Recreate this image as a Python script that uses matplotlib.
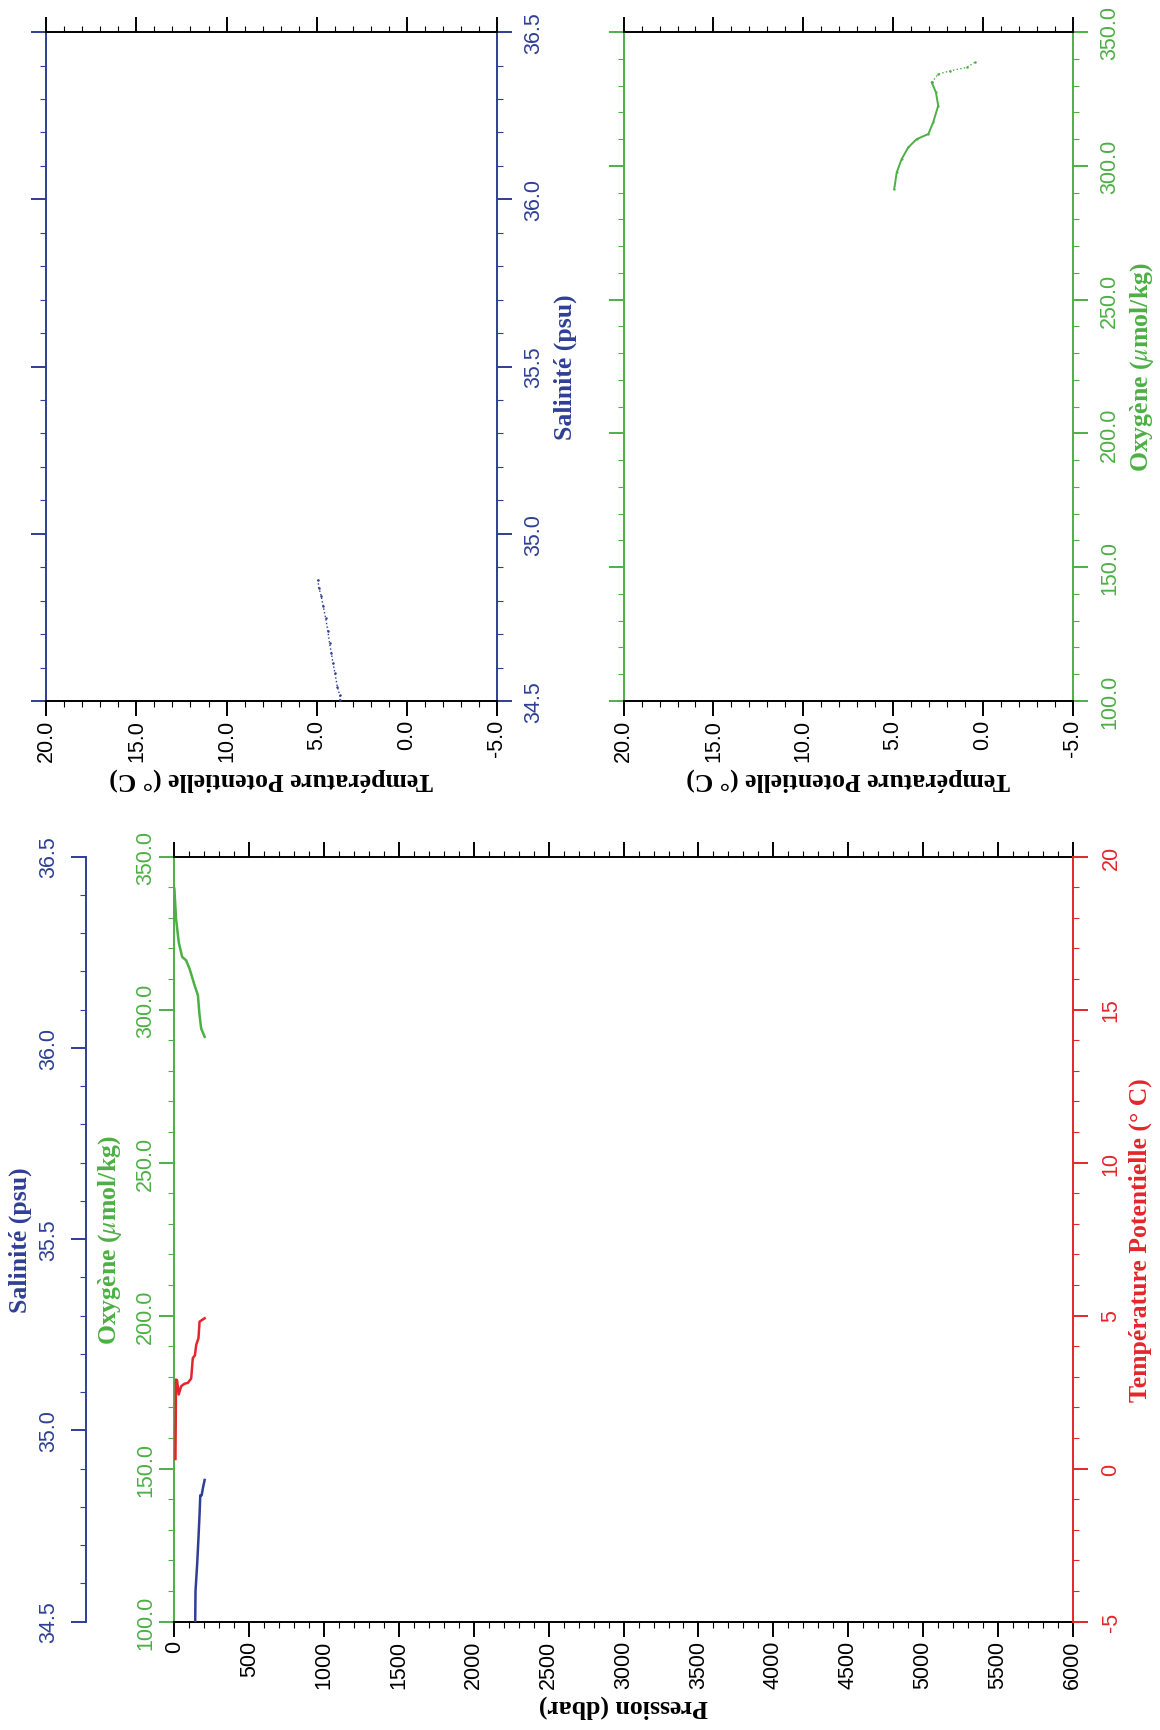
import matplotlib
matplotlib.use("Agg")
import matplotlib.pyplot as plt
from matplotlib.ticker import MultipleLocator
from matplotlib import font_manager

# ---------------- data ----------------
# Pressure profile (bottom panel)
oxy_pres = [0, 11, 29, 52, 78, 101, 135, 157, 168, 179, 202]
oxy_vals = [339.5, 329.7, 322.0, 317.2, 316.1, 313.4, 307.9, 304.7, 298.2, 293.8, 291.1]

temp_pres = [7, 11, 18, 29, 45, 67, 90, 112, 123, 137, 146, 161, 168, 186, 202]
temp_vals = [0.31, 2.91, 2.88, 2.42, 2.69, 2.77, 2.80, 2.94, 3.61, 3.70, 4.05, 4.26, 4.80, 4.86, 4.91]

sal_pres = [139, 141, 152, 161, 168, 173, 182, 191, 202]
sal_vals = [34.50, 34.58, 34.65, 34.72, 34.78, 34.83, 34.83, 34.85, 34.87]

# T-S diagram (top-left panel)
ts_temp = [4.93, 4.87, 4.74, 4.63, 4.50, 4.37, 4.28, 4.18, 4.09, 3.98, 3.85, 3.72, 3.70]
ts_sal = [34.863, 34.838, 34.813, 34.783, 34.748, 34.708, 34.673, 34.643, 34.613, 34.583, 34.543, 34.518, 34.503]

# O-T diagram (top-right panel)
ot_temp = [4.94, 4.80, 4.53, 4.16, 3.69, 3.04, 2.77, 2.49, 2.62, 2.85, 2.49, 1.84, 0.91, 0.45]
ot_oxy = [291.3, 297.6, 302.5, 306.9, 310.0, 311.9, 316.3, 322.5, 327.5, 331.2, 334.3, 335.5, 336.8, 338.7]

# axis ticks
pres_ticks = list(range(0, 6001, 500))
oxy_ticks = [100.0, 150.0, 200.0, 250.0, 300.0, 350.0]
temp_ticks = [-5, 0, 5, 10, 15, 20]
sal_ticks = [34.5, 35.0, 35.5, 36.0, 36.5]

# ---------------- style ----------------
BLUE = "#2E3F95"
GREEN = "#4DAF45"
RED = "#E3262B"


def pick_font(cands):
    for c in cands:
        try:
            font_manager.findfont(font_manager.FontProperties(family=c), fallback_to_default=False)
            return c
        except Exception:
            continue
    return "DejaVu Sans"


TICKF = pick_font(["Liberation Sans", "DejaVu Sans"])
LABF = pick_font(["Liberation Serif", "DejaVu Serif"])
plt.rcParams["mathtext.fontset"] = "stix"

TS = 15.5    # tick label size
LS = 18.5    # axis label size
MAJ_L, MIN_L = 11, 4.5


def label_kw(color):
    return dict(fontsize=LS, fontfamily=LABF, fontweight="bold", color=color)


def tick_kw(color):
    return dict(fontsize=TS, fontfamily=TICKF, color=color)


fig = plt.figure(figsize=(11.6, 17.31), dpi=100)

# ================= bottom panel: profiles vs pressure =================
ax = fig.add_axes([0.15034, 0.06268, 0.77448, 0.44188])
ax.set_xlim(0, 6000)
ax.set_ylim(100, 350)
ax.set_xticks(pres_ticks)
ax.set_xticklabels([str(v) for v in pres_ticks], rotation=90, **tick_kw("black"))
ax.xaxis.set_minor_locator(MultipleLocator(100))
ax.tick_params(axis="x", which="both", bottom=True, top=True, direction="out", colors="black")
ax.tick_params(axis="x", which="major", length=MAJ_L, width=1.4, pad=2)
ax.tick_params(axis="x", which="minor", length=MIN_L, width=0.8)

ax.set_yticks(oxy_ticks)
ax.set_yticklabels([f"{v:.1f}" for v in oxy_ticks], rotation=90, va="center", **tick_kw(GREEN))
ax.yaxis.set_minor_locator(MultipleLocator(10))
ax.tick_params(axis="y", which="both", left=True, right=False, direction="out", color=GREEN)
ax.tick_params(axis="y", which="major", length=MAJ_L, width=1.4, pad=2)
ax.tick_params(axis="y", which="minor", length=MIN_L, width=0.8)

ax.spines["left"].set_color(GREEN)
ax.spines["right"].set_visible(False)
for s in ("top", "bottom"):
    ax.spines[s].set_color("black")
for s in ax.spines.values():
    s.set_linewidth(1.4)

ax.plot(oxy_pres, oxy_vals, color=GREEN, lw=1.8, zorder=3)

ax.set_xlabel("Pression (dbar)", rotation=180, va="center", ha="center", **label_kw("black"))
ax.xaxis.set_label_coords(0.5, -0.110)
ax.set_ylabel("Oxygène ($\\mu$mol/kg)", rotation=90, va="center", ha="center", **label_kw(GREEN))
ax.yaxis.set_label_coords(-0.0717, 0.5)

# temperature axis (right, red)
tax = ax.twinx()
tax.set_ylim(-5, 20)
tax.set_yticks(temp_ticks)
tax.set_yticklabels([str(v) for v in temp_ticks], rotation=90, va="center", **tick_kw(RED))
tax.yaxis.set_minor_locator(MultipleLocator(1))
tax.tick_params(axis="y", which="both", left=False, right=True, direction="out", color=RED)
tax.tick_params(axis="y", which="major", length=MAJ_L, width=1.4, pad=9)
tax.tick_params(axis="y", which="minor", length=MIN_L, width=0.8)
for s in ("top", "bottom", "left"):
    tax.spines[s].set_visible(False)
tax.spines["right"].set_color(RED)
tax.spines["right"].set_linewidth(1.4)
tax.plot(temp_pres, temp_vals, color=RED, lw=1.8, zorder=3)
tax.set_ylabel("Température Potentielle (° C)", rotation=90, va="center", ha="center", **label_kw(RED))
tax.yaxis.set_label_coords(1.0748, 0.5)

# salinity axis (offset left, blue)
sax = ax.twinx()
sax.set_ylim(34.5, 36.5)
sax.spines["left"].set_position(("axes", -0.0984))
sax.spines["left"].set_visible(True)
sax.spines["left"].set_color(BLUE)
sax.spines["left"].set_linewidth(1.4)
for s in ("top", "bottom", "right"):
    sax.spines[s].set_visible(False)
sax.yaxis.set_ticks_position("left")
sax.yaxis.set_label_position("left")
sax.set_yticks(sal_ticks)
sax.set_yticklabels([f"{v:.1f}" for v in sal_ticks], rotation=90, va="center", **tick_kw(BLUE))
sax.yaxis.set_minor_locator(MultipleLocator(0.1))
sax.tick_params(axis="y", which="both", left=True, right=False, direction="out", color=BLUE)
sax.tick_params(axis="y", which="major", length=MAJ_L, width=1.4, pad=8)
sax.tick_params(axis="y", which="minor", length=MIN_L, width=0.8)
sax.plot(sal_pres, sal_vals, color=BLUE, lw=1.8, zorder=3)
sax.set_ylabel("Salinité (psu)", rotation=90, va="center", ha="center", **label_kw(BLUE))
sax.yaxis.set_label_coords(-0.1719, 0.5)


# ================= top panels =================
def top_panel(rect, ylim, yticks, ycolor, yminor, ylabel, ylabel_x):
    a = fig.add_axes(rect)
    a.set_xlim(20, -5)
    a.set_ylim(*ylim)
    a.set_xticks(temp_ticks)
    a.set_xticklabels([f"{v:.1f}" for v in temp_ticks], rotation=90, **tick_kw("black"))
    a.xaxis.set_minor_locator(MultipleLocator(1))
    a.tick_params(axis="x", which="both", bottom=True, top=True, direction="out", colors="black")
    a.tick_params(axis="x", which="major", length=MAJ_L, width=1.4, pad=2)
    a.tick_params(axis="x", which="minor", length=MIN_L, width=0.8)
    a.set_yticks(yticks)
    a.set_yticklabels([f"{v:.1f}" for v in yticks], rotation=90, va="center", **tick_kw(ycolor))
    a.yaxis.set_minor_locator(MultipleLocator(yminor))
    a.tick_params(axis="y", which="both", left=True, right=True, labelleft=False,
                  labelright=True, direction="out", color=ycolor)
    a.tick_params(axis="y", which="major", length=MAJ_L, width=1.4, pad=8)
    a.tick_params(axis="y", which="minor", length=MIN_L, width=0.8)
    for s in ("left", "right"):
        a.spines[s].set_color(ycolor)
    for s in ("top", "bottom"):
        a.spines[s].set_color("black")
    for s in a.spines.values():
        s.set_linewidth(1.4)
    a.set_xlabel("Température Potentielle (° C)", rotation=180, va="center", ha="center",
                 **label_kw("black"))
    a.xaxis.set_label_coords(0.5, -0.116)
    a.yaxis.set_label_position("right")
    a.set_ylabel(ylabel, rotation=90, va="center", ha="center", **label_kw(ycolor))
    a.yaxis.set_label_coords(ylabel_x, 0.5)
    return a


ts = top_panel([0.0400, 0.59445, 0.3882, 0.38643], (34.5, 36.5), sal_ticks, BLUE, 0.1,
               "Salinité (psu)", 1.1517)
ts.plot(ts_temp, ts_sal, linestyle=":", lw=1.0, marker="o", ms=1.8, mew=0,
        color=BLUE, zorder=3)

ot = top_panel([0.5376, 0.59445, 0.38724, 0.38643], (100, 350), oxy_ticks, GREEN, 10,
               "Oxygène ($\\mu$mol/kg)", 1.154)
ot.plot(ot_temp[:10], ot_oxy[:10], linestyle="-", lw=1.4, marker="o", ms=1.6, mew=0,
        color=GREEN, zorder=3)
ot.plot(ot_temp[9:], ot_oxy[9:], linestyle=":", lw=1.0, marker="o", ms=1.8, mew=0,
        color=GREEN, zorder=3)

fig.savefig("out.png", dpi=100)
